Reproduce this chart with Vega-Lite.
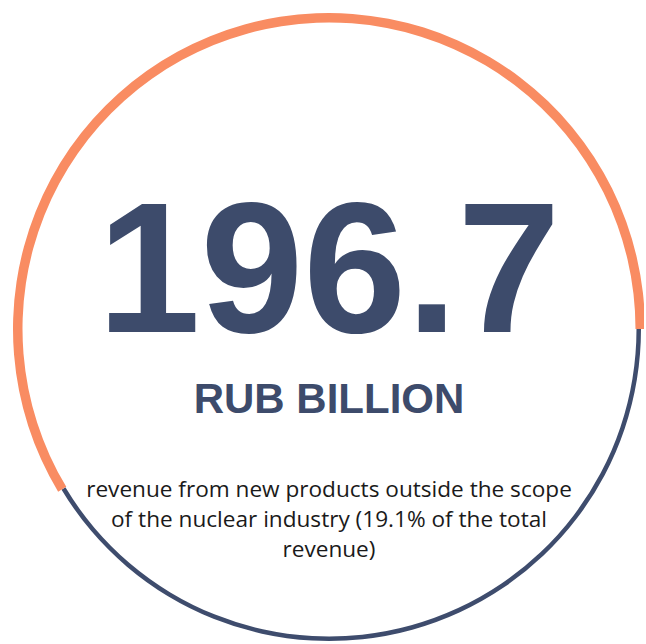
{
  "$schema": "https://vega.github.io/schema/vega-lite/v6.json",
  "width": 630,
  "height": 630,
  "padding": {"left": 14, "top": 14, "right": 0, "bottom": 0},
  "autosize": {"type": "none"},
  "background": "white",
  "config": {"view": {"stroke": null}},
  "layer": [
    {
      "data": {"values": [
        {"segment": "nuclear", "arc_degrees": 149, "seq": 1},
        {"segment": "new products", "arc_degrees": 211, "seq": 2}
      ]},
      "transform": [
        {"stack": "arc_degrees", "groupby": [], "sort": [{"field": "seq"}], "as": ["a0", "a1"]}
      ],
      "layer": [
        {
          "transform": [{"filter": "datum.segment === 'nuclear'"}],
          "mark": {"type": "arc", "radius": 312, "radius2": 307.5, "color": "#3E4C6D"},
          "encoding": {
            "theta": {"field": "a0", "type": "quantitative", "scale": {"domain": [0, 360], "range": [1.5708, 7.854]}},
            "theta2": {"field": "a1"}
          }
        },
        {
          "transform": [{"filter": "datum.segment === 'new products'"}],
          "mark": {"type": "arc", "radius": 316, "radius2": 306.5, "color": "#F98C62"},
          "encoding": {
            "theta": {"field": "a0", "type": "quantitative", "scale": {"domain": [0, 360], "range": [1.5708, 7.854]}},
            "theta2": {"field": "a1"}
          }
        }
      ]
    },
    {
      "data": {"values": [{"label": "196.7"}]},
      "mark": {"type": "text", "font": "Liberation Sans", "fontWeight": "bold", "fontSize": 185, "align": "center", "baseline": "alphabetic", "dy": 3, "color": "#3D4B6B"},
      "encoding": {"text": {"field": "label"}}
    },
    {
      "data": {"values": [{"label": "RUB BILLION"}]},
      "mark": {"type": "text", "font": "Liberation Sans", "fontWeight": "bold", "fontSize": 42, "align": "center", "baseline": "alphabetic", "dy": 84, "color": "#3D4B6B"},
      "encoding": {"text": {"field": "label"}}
    },
    {
      "data": {"values": [{"label": "revenue from new products outside the scope|of the nuclear industry (19.1% of the total|revenue)"}]},
      "mark": {"type": "text", "font": "Open Sans", "fontSize": 22.6, "align": "center", "baseline": "alphabetic", "dy": 168, "lineHeight": 30, "lineBreak": "|", "color": "#1A1A1A"},
      "encoding": {"text": {"field": "label"}}
    }
  ]
}
